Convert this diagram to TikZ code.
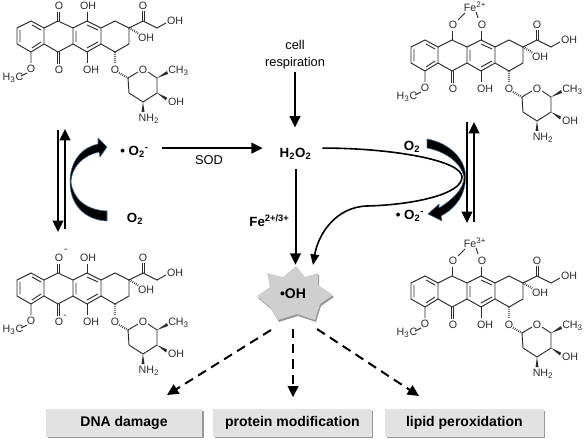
\documentclass[tikz,border=0pt]{standalone}
\usepackage{fontspec}
\setmainfont{Liberation Sans}
\definecolor{BondGray}{HTML}{2B2B2B}
\definecolor{HaloBlue}{HTML}{3A6C9C}
\definecolor{StarGray}{HTML}{CFCFCF}
\definecolor{BoxGray}{HTML}{E2E2E2}
\usetikzlibrary{arrows.meta, positioning, shadows}
\tikzset{
    atom/.style={text=BondGray, inner sep=0pt, font=\fontsize{8}{9}\selectfont},
    bond/.style={draw=BondGray, line width=0.7pt},
    hashbond/.style={draw=BondGray, line width=1.6pt, dash pattern=on 0.5pt off 1pt},
    wedge/.style={fill=BondGray},
    word/.style={inner sep=0pt, align=center, font=\fontsize{9.6}{12.6}\selectfont},
    species/.style={inner sep=0pt, font=\bfseries\fontsize{10}{12}\selectfont},
    rxn/.style={line width=1.5pt, -{Triangle[width=8pt,length=8.5pt]}},
    rxndash/.style={rxn, dash pattern=on 7pt off 4.5pt},
    fatcurve/.style={fill=black, draw=HaloBlue, line width=0.4pt, line join=round},
    resultbox/.style={fill=BoxGray, minimum height=20.5pt, inner sep=0pt, outer sep=0pt,
        font=\bfseries\fontsize{10.5}{12}\selectfont,
        general shadow={shadow xshift=1.2pt, shadow yshift=-1.2pt, fill=black!40}},
    % rings and side chains shared by all four molecules
    pics/doxo/.style={code={
        \draw[bond] (31,21) -- (44,28) -- (44,44) -- (31,52) -- (17,44) -- (17,28) -- cycle;
        \draw[bond] (20,30) -- (20,42) (32,25) -- (41,30) (32,48) -- (41,42);
        \draw[bond] (44,28) -- (58,21) -- (73,28) -- (73,44) -- (58,52) -- (44,44);
        \draw[bond] (73,28) -- (87,21) -- (101,28) -- (101,44) -- (87,52) -- (73,44);
        \draw[bond] (76,31) -- (76,42) (87,25) -- (98,30) (98,42) -- (87,48);
        \draw[bond] (101,28) -- (115,21) -- (129,28) -- (129,44) -- (115,52) -- (101,44);
        \draw[bond] (129,28) -- (143,21) -- (157,28) -- (166,23);
        \draw[bond] (142,21) -- (142,11) (144.5,21) -- (144.5,11);
        \node[atom] (-cooh) at (143,6) {O};
        \node[atom] (-ohend) at (175,21) {OH};
        \draw[hashbond] (129,28) -- (139,34);
        \node[atom] (-ohring) at (146,38) {OH};
        \draw[bond] (57,52) -- (57,64) (59.5,52) -- (59.5,64);
        \node[atom] (-olow) at (59,70) {O};
        \draw[bond] (87,52) -- (87,63);
        \node[atom] (-ohlow) at (91,70) {OH};
        \draw[bond] (31,52) -- (31,63) (27,73) -- (21,76);
        \node[atom] (-ome) at (31,69) {O};
        \node[atom] (-me) at (13,78) {H\textsubscript{3}C};
        \draw[hashbond] (115,52) -- (115,64) (119,73) -- (128,78);
        \node[atom] (-oglyc) at (115,70) {O};
        \draw[bond] (138,72) -- (128,78) -- (129,93) -- (143,102) -- (157,93) -- (157,78) -- (148,72);
        \node[atom] (-osugar) at (143,70) {O};
        \fill[wedge] (157,78) -- (167,71) -- (168,74) -- cycle;
        \node[atom, anchor=west] (-ch) at (168,71) {CH\textsubscript{3}};
        \fill[wedge] (157,93) -- (167,97.5) -- (166,100.5) -- cycle;
        \node[atom] (-ohsugar) at (176,102) {OH};
        \fill[wedge] (143,102) -- (141.5,112) -- (144.5,112) -- cycle;
        \node[atom] (-amine) at (149,119) {NH\textsubscript{2}};
    }},
    % upper quinone oxygen and phenol
    pics/quinone/.style={code={
        \draw[bond] (57,21) -- (57,12) (59.5,21) -- (59.5,12) (87,21) -- (87,12);
        \node[atom] (-oup) at (59,6) {O};
        \node[atom] (-ohup) at (88,6) {OH};
    }},
    % iron bound to the two upper oxygens
    pics/ironbound/.style={code={
        \draw[bond] (58,21) -- (58,12) (87,21) -- (87,12);
        \node[atom] (-oa) at (59,6) {O};
        \node[atom] (-ob) at (88,6) {O};
        \node[atom] (-fe) at (81,-12) {Fe\textsuperscript{#1}};
        \draw[bond] (64,1) -- (71,-6) (84,-1) -- (82,-7);
    }},
}
\begin{document}
\begin{tikzpicture}[x=0.75pt, y=-0.75pt]
    \useasboundingbox (0,0) rectangle (584,445);

    % molecules
    \pic (doxa) at (0,0) {doxo};
    \pic (doxaup) at (0,0) {quinone};
    \pic (semi) at (0,252) {doxo};
    \pic (semiup) at (0,252) {quinone};
    \node[atom] (semiminus) at (66,251) {-};
    \node[atom, font=\fontsize{4}{5}\selectfont] (semidot) at (65,316) {\textbullet};
    \pic (ferro) at (394,19) {doxo};
    \pic (ferroup) at (394,19) {ironbound={2+}};
    \pic (ferri) at (394,255) {doxo};
    \pic (ferriup) at (394,255) {ironbound={3+}};

    % species
    \node[word] (resp) at (295,55) {cell\\respiration};
    \node[species] (h2o2) at (295.5,154) {H\textsubscript{2}O\textsubscript{2}};
    \node[species] (radl) at (134.5,152) {\textbullet\ O\textsubscript{2}\textsuperscript{-}};
    \node[species] (oxl) at (135,219) {O\textsubscript{2}};
    \node[species] (oxr) at (412,147) {O\textsubscript{2}};
    \node[species] (radr) at (410,216) {\textbullet\ O\textsubscript{2}\textsuperscript{-}};

    % star
    \fill[black!40, shift={(1,2)}] (296,266) -- (305,277) -- (318,273) -- (318,285) -- (333,295) -- (320,304) -- (315,320) -- (297,314) -- (278,320) -- (270,307) -- (257,296) -- (270,287) -- (267,273) -- (283,277) -- cycle;
    \fill[StarGray] (296,266) -- (305,277) -- (318,273) -- (318,285) -- (333,295) -- (320,304) -- (315,320) -- (297,314) -- (278,320) -- (270,307) -- (257,296) -- (270,287) -- (267,273) -- (283,277) -- cycle;
    \node[species, font=\bfseries\fontsize{10.5}{12}\selectfont] (ohrad) at (293,294) {\textbullet OH};

    % boxes
    \node[resultbox, minimum width=117pt] (dnabox) at (124,423) {DNA damage};
    \node[resultbox, minimum width=119pt, right=8.25pt of dnabox] (protbox) {protein modification};
    \node[resultbox, minimum width=119pt, right=10pt of protbox] (lipbox) {lipid peroxidation};

    % curved cofactor arrows
    \path[fatcurve] (107,221) .. controls (85,220) and (70,205) .. (70,182) .. controls (70,160) and (83,147) .. (98,144) -- (98,138) -- (107,147) -- (100,157) -- (99,152) .. controls (85,155) and (72,165) .. (71,182) .. controls (73,198) and (85,210) .. (107,211) -- cycle;
    \path[fatcurve] (427,139) .. controls (450,143) and (466,160) .. (465.5,177) .. controls (465.5,195) and (456,208) .. (441,216) -- (442,221) -- (428,214) -- (439,204) -- (439,208) .. controls (452,200) and (464,189) .. (464,177) .. controls (462,165) and (448,152) .. (427,148) -- cycle;

    % equilibrium arrows
    \coordinate (lupa) at (65,229);
    \coordinate (lupb) at (65,129);
    \coordinate (ldowna) at (58,130);
    \coordinate (ldownb) at (58,232);
    \coordinate (rupa) at (474,222);
    \coordinate (rupb) at (474,122);
    \coordinate (rdowna) at (467,122);
    \coordinate (rdownb) at (467,223);
    \draw[rxn] (lupa) -- (lupb);
    \draw[rxn] (ldowna) -- (ldownb);
    \draw[rxn] (rupa) -- (rupb);
    \draw[rxn] (rdowna) -- (rdownb);

    % central arrows
    \draw[rxn, shorten <=1.5pt, shorten >=15.5pt] (resp.south) -- (resp.south |- h2o2.north);
    \draw[rxn, shorten <=10pt, shorten >=12.5pt] (radl.east |- h2o2.north west) -- (h2o2.north west) node[pos=.46, below=4.5pt, word] (sod) {SOD};
    \draw[rxn, shorten <=7pt, shorten >=18pt] (h2o2.south) -- (h2o2.south |- ohrad.north) node[pos=.47, left=3.75pt, species] (fe) {Fe\textsuperscript{2+/3+}};

    \coordinate (curveend) at (313,265);
    \draw[line width=1.2pt, -{Triangle[width=6.5pt,length=8pt]}, shorten <=8pt] (h2o2.north east) .. controls (390,148) and (462,160) .. (462,177) .. controls (462,195) and (410,205) .. (367,206) .. controls (335,207) and (318,235) .. (curveend);

    % dashed arrows
    \coordinate (leftstart) at (271,330);
    \coordinate (lefttip) at (167,395);
    \coordinate (rightstart) at (317,329);
    \coordinate (righttip) at (419,396);
    \draw[rxndash] (leftstart) -- (lefttip);
    \draw[rxndash, shorten <=22pt, shorten >=9pt] (ohrad.south) -- (ohrad.south |- protbox.north);
    \draw[rxndash] (rightstart) -- (righttip);
\end{tikzpicture}
\end{document}
